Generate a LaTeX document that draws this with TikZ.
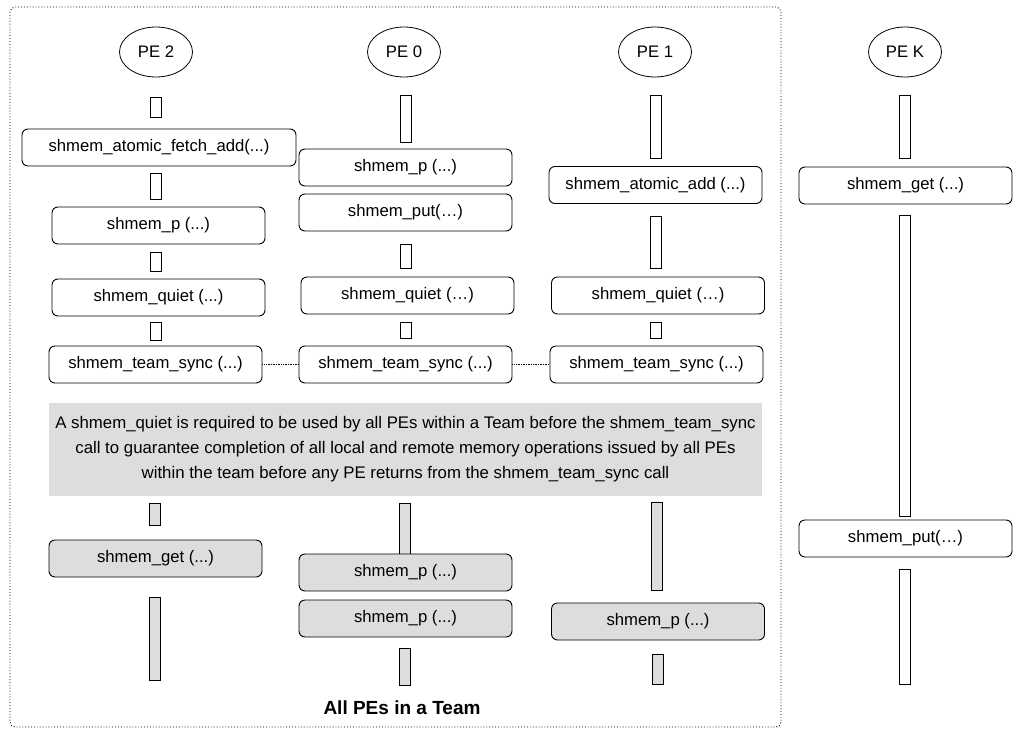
\documentclass[tikz,border=0pt]{standalone}
\usepackage{fontspec}
\setmainfont{Liberation Sans}
\usetikzlibrary{shapes.geometric}
\definecolor{boxgray}{RGB}{221,221,221}
\begin{document}
\begin{tikzpicture}[x=1pt,y=-1pt,
  call/.style={draw, rounded corners=6pt, line width=0.9pt, minimum width=213pt, minimum height=37pt, inner sep=0pt, font=\fontsize{16.7}{20}\selectfont},
  gcall/.style={call, fill=boxgray},
  bar/.style={draw, line width=0.8pt, minimum width=11pt, minimum height=#1, inner sep=0pt},
  gbar/.style={bar=#1, fill=boxgray},
  pe/.style={draw, ellipse, line width=0.8pt, minimum width=73pt, minimum height=50pt, inner sep=0pt, font=\fontsize{16.7}{20}\selectfont},
  link/.style={densely dotted, line width=0.7pt},
]
\useasboundingbox (0,0) rectangle (1019,728);
\draw[dotted, line width=0.9pt, rounded corners=5pt] (10,7) rectangle (781,727);

% PE 2
\node[pe] (e2) at (156,52) {PE 2};
\node[bar=20pt] (b2a) at (156,107) {};
\node[call, minimum width=274pt] (c2a) at (159,147.5) {shmem\_atomic\_fetch\_add(...)};
\node[bar=26pt] (b2b) at (156,186) {};
\node[call] (c2b) at (158.5,225.5) {shmem\_p (...)};
\node[bar=19pt] (b2c) at (156,261.5) {};
\node[call] (c2c) at (158.5,297.5) {shmem\_quiet (...)};
\node[bar=18pt] (b2d) at (156,331) {};
\node[call] (c2d) at (155.5,364.5) {shmem\_team\_sync (...)};
\node[gbar=22pt] (g2a) at (155,514) {};
\node[gcall] (gc2a) at (155.5,558.5) {shmem\_get (...)};
\node[gbar=83pt] (g2b) at (155,638.5) {};

% PE 0
\node[pe] (e0) at (404,52) {PE 0};
\node[bar=47pt] (b0a) at (406,118.5) {};
\node[call] (c0a) at (405.5,167.5) {shmem\_p (...)};
\node[call] (c0b) at (405.5,212.5) {shmem\_put(…)};
\node[bar=24pt] (b0b) at (406,256) {};
\node[call] (c0c) at (407.5,295.5) {shmem\_quiet (…)};
\node[bar=16pt] (b0c) at (406,330) {};
\node[call] (c0d) at (405.5,364.5) {shmem\_team\_sync (...)};
\node[gbar=52pt] (g0a) at (405,529) {};
\node[gcall] (gc0a) at (405.5,572.5) {shmem\_p (...)};
\node[gcall] (gc0b) at (405.5,618.5) {shmem\_p (...)};
\node[gbar=37pt] (g0b) at (405,666.5) {};

% PE 1
\node[pe] (e1) at (655,52) {PE 1};
\node[bar=63pt] (b1a) at (656,126.5) {};
\node[call] (c1a) at (655.5,185) {shmem\_atomic\_add (...)};
\node[bar=52pt] (b1b) at (656,242) {};
\node[call] (c1b) at (658,295.5) {shmem\_quiet (…)};
\node[bar=16pt] (b1c) at (656,330) {};
\node[call] (c1c) at (656.5,364.5) {shmem\_team\_sync (...)};
\node[gbar=88pt] (g1a) at (657,546) {};
\node[gcall] (gc1a) at (658,621.5) {shmem\_p (...)};
\node[gbar=30pt] (g1b) at (658,669) {};

% PE K
\node[pe] (eK) at (905,52) {PE K};
\node[bar=63pt] (bKa) at (905,126.5) {};
\node[call] (cKa) at (905.5,185.5) {shmem\_get (...)};
\node[bar=301pt] (bKb) at (905,365.5) {};
\node[call] (cKb) at (905.5,538.5) {shmem\_put(…)};
\node[bar=115pt] (bKc) at (905,626.5) {};

% sync links
\draw[link] (c2d.east) -- (c0d.west);
\draw[link] (c0d.east) -- (c1c.west);

% banner
\node[fill=boxgray, minimum width=713pt, minimum height=93pt, inner sep=0pt, align=center,
      font=\fontsize{16.8}{25}\selectfont] (banner) at (405.5,449)
  {A shmem\_quiet is required to be used by all PEs within a Team before the shmem\_team\_sync\\
   call to guarantee completion of all local and remote memory operations issued by all PEs\\
   within the team before any PE returns from the shmem\_team\_sync call};

\node[font=\fontsize{19}{22}\bfseries\selectfont] (title) at (402,708) {All PEs in a Team};
\end{tikzpicture}
\end{document}
